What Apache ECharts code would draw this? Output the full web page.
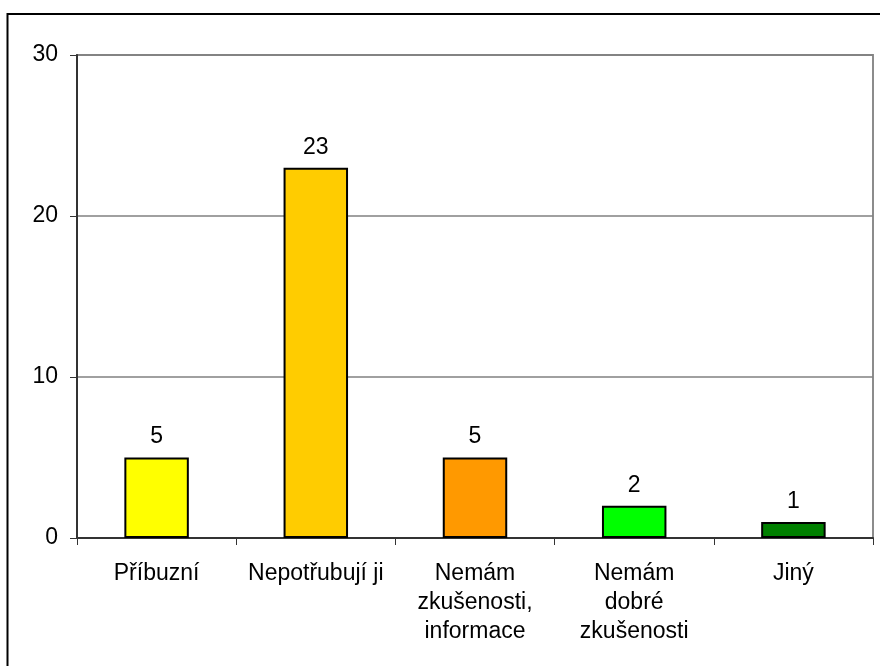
<!DOCTYPE html>
<html>
<head>
<meta charset="utf-8">
<script src="https://cdn.jsdelivr.net/npm/echarts@6/dist/echarts.min.js"></script>
<style>
  html, body { margin: 0; padding: 0; background: #ffffff; }
  #chart { width: 880px; height: 666px; }
</style>
</head>
<body>
<div id="chart"></div>
<script>
// Reasons for not using the service: answer categories and counts
const categories = ['Příbuzní', 'Nepotřubují ji', 'Nemám\nzkušenosti,\ninformace', 'Nemám\ndobré\nzkušenosti', 'Jiný'];
const counts = [5, 23, 5, 2, 1];
const barColors = ['#FFFF00', '#FFCC00', '#FF9900', '#00FF00', '#008000'];
const yTicks = [0, 10, 20, 30];

const FONT = '"Liberation Sans", Arial, sans-serif';

const chart = echarts.init(document.getElementById('chart'), null, { renderer: 'canvas' });

chart.setOption({
  animation: false,
  backgroundColor: '#ffffff',
  graphic: [{
    // frame around the whole chart (runs off the right and bottom edges)
    type: 'rect',
    shape: { x: 7.5, y: 14, width: 1000, height: 1000 },
    style: { fill: 'none', stroke: '#000000', lineWidth: 2 },
    silent: true
  }],
  grid: {
    left: 77, right: 7, top: 55, bottom: 128,
    show: true,
    borderColor: '#8c8c8c',
    borderWidth: 2,
    containLabel: false
  },
  xAxis: {
    type: 'category',
    data: categories,
    axisLine: { show: true, lineStyle: { color: '#333333', width: 2 } },
    axisTick: { show: true, length: 7, lineStyle: { color: '#333333', width: 1 } },
    axisLabel: {
      interval: 0,
      margin: 21,
      color: '#000000',
      fontFamily: FONT,
      fontSize: 23,
      lineHeight: 29
    },
    splitLine: { show: false }
  },
  yAxis: {
    type: 'value',
    min: yTicks[0],
    max: yTicks[yTicks.length - 1],
    interval: 10,
    axisLine: { show: true, lineStyle: { color: '#333333', width: 2 } },
    axisTick: { show: true, length: 7, lineStyle: { color: '#333333', width: 1 } },
    axisLabel: {
      margin: 19,
      color: '#000000',
      fontFamily: FONT,
      fontSize: 23
    },
    splitLine: { show: true, lineStyle: { color: '#808080', width: 1.5 } }
  },
  series: [{
    type: 'bar',
    data: counts.map((v, i) => ({ value: v, itemStyle: { color: barColors[i] } })),
    barWidth: '40.5%',
    itemStyle: { borderColor: '#000000', borderWidth: 2 },
    label: {
      show: true,
      position: 'top',
      distance: 9,
      color: '#000000',
      fontFamily: FONT,
      fontSize: 23
    }
  }]
});
</script>
</body>
</html>
